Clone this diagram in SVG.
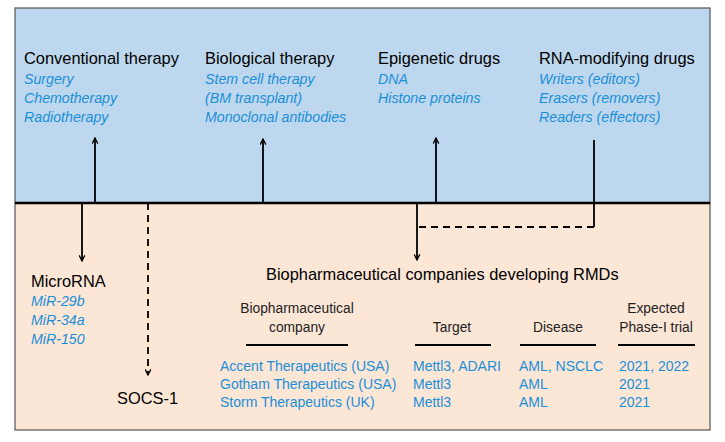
<svg xmlns="http://www.w3.org/2000/svg" width="725" height="442" viewBox="0 0 725 442">
<style>
text{font-family:"Liberation Sans",Arial,sans-serif;}
.h{font-size:16.4px;fill:#000;}
.i{font-size:14.2px;font-style:italic;fill:#1A8FD8;}
.th{font-size:13.8px;fill:#222;text-anchor:middle;}
.r{font-size:14px;fill:#1A8FD8;}
.ln{stroke:#000;stroke-width:1.8;fill:none;}
.ds{stroke:#000;stroke-width:1.8;fill:none;stroke-dasharray:7,5;}
.ul{stroke:#000;stroke-width:2;}
</style>
<defs>
<marker id="ah" viewBox="0 0 10 10" refX="9" refY="5" markerWidth="7" markerHeight="7" orient="auto" markerUnits="userSpaceOnUse">
<path d="M1,1 L9,5 L1,9" fill="none" stroke="#000" stroke-width="1.8"/>
</marker>
</defs>
<rect x="0" y="0" width="725" height="442" fill="#fff"/>
<g id="panels">
<rect x="15" y="8" width="695" height="195" fill="#BDD7EE"/>
<rect x="15" y="203" width="695" height="227" fill="#FCE6D6"/>
<rect x="15" y="8" width="695" height="422" fill="none" stroke="#555" stroke-width="1.2"/>
<line x1="15" y1="203" x2="710" y2="203" stroke="#000" stroke-width="2.5"/>
</g>
<g id="conventional">
<text class="h" x="24" y="64">Conventional therapy</text>
<text class="i" x="24" y="84">Surgery</text>
<text class="i" x="24" y="103">Chemotherapy</text>
<text class="i" x="24" y="122">Radiotherapy</text>
</g>
<g id="biological">
<text class="h" x="205" y="64">Biological therapy</text>
<text class="i" x="205" y="84">Stem cell therapy</text>
<text class="i" x="205" y="103">(BM transplant)</text>
<text class="i" x="205" y="122">Monoclonal antibodies</text>
</g>
<g id="epigenetic">
<text class="h" x="378" y="64">Epigenetic drugs</text>
<text class="i" x="378" y="84">DNA</text>
<text class="i" x="378" y="103">Histone proteins</text>
</g>
<g id="rna">
<text class="h" x="539" y="64">RNA-modifying drugs</text>
<text class="i" x="539" y="84">Writers (editors)</text>
<text class="i" x="539" y="103">Erasers (removers)</text>
<text class="i" x="539" y="122">Readers (effectors)</text>
</g>
<g id="microrna">
<text class="h" x="31" y="287">MicroRNA</text>
<text class="i" x="31" y="306">MiR-29b</text>
<text class="i" x="31" y="325">MiR-34a</text>
<text class="i" x="31" y="344">MiR-150</text>
</g>
<g id="socs">
<text class="h" x="117" y="404">SOCS-1</text>
</g>
<g id="companies">
<text class="h" x="266" y="280">Biopharmaceutical companies developing RMDs</text>
<text class="th" x="297" y="313">Biopharmaceutical</text>
<text class="th" x="297" y="332">company</text>
<text class="th" x="452" y="332">Target</text>
<text class="th" x="558" y="332">Disease</text>
<text class="th" x="656" y="313">Expected</text>
<text class="th" x="656" y="332">Phase-I trial</text>
<line class="ul" x1="246" y1="345" x2="348" y2="345"/>
<line class="ul" x1="415" y1="345" x2="491" y2="345"/>
<line class="ul" x1="520" y1="345" x2="596" y2="345"/>
<line class="ul" x1="618" y1="345" x2="695" y2="345"/>
<text class="r" x="220" y="371">Accent Therapeutics (USA)</text>
<text class="r" x="220" y="389">Gotham Therapeutics (USA)</text>
<text class="r" x="220" y="407">Storm Therapeutics (UK)</text>
<text class="r" x="413" y="371">Mettl3, ADARI</text>
<text class="r" x="413" y="389">Mettl3</text>
<text class="r" x="413" y="407">Mettl3</text>
<text class="r" x="519" y="371">AML, NSCLC</text>
<text class="r" x="519" y="389">AML</text>
<text class="r" x="519" y="407">AML</text>
<text class="r" x="619" y="371">2021, 2022</text>
<text class="r" x="619" y="389">2021</text>
<text class="r" x="619" y="407">2021</text>
</g>
<g id="connectors">
<line class="ln" x1="95" y1="203" x2="95" y2="138" marker-end="url(#ah)"/>
<line class="ln" x1="263" y1="203" x2="263" y2="139" marker-end="url(#ah)"/>
<line class="ln" x1="436" y1="203" x2="436" y2="138" marker-end="url(#ah)"/>
<polyline class="ln" points="594,140 594,227"/>
<line class="ds" x1="594" y1="227" x2="418" y2="227"/>
<line class="ln" x1="417" y1="203" x2="417" y2="260" marker-end="url(#ah)"/>
<line class="ln" x1="82" y1="203" x2="82" y2="261" marker-end="url(#ah)"/>
<line class="ds" x1="148" y1="203" x2="148" y2="375" marker-end="url(#ah)"/>
</g>
</svg>
